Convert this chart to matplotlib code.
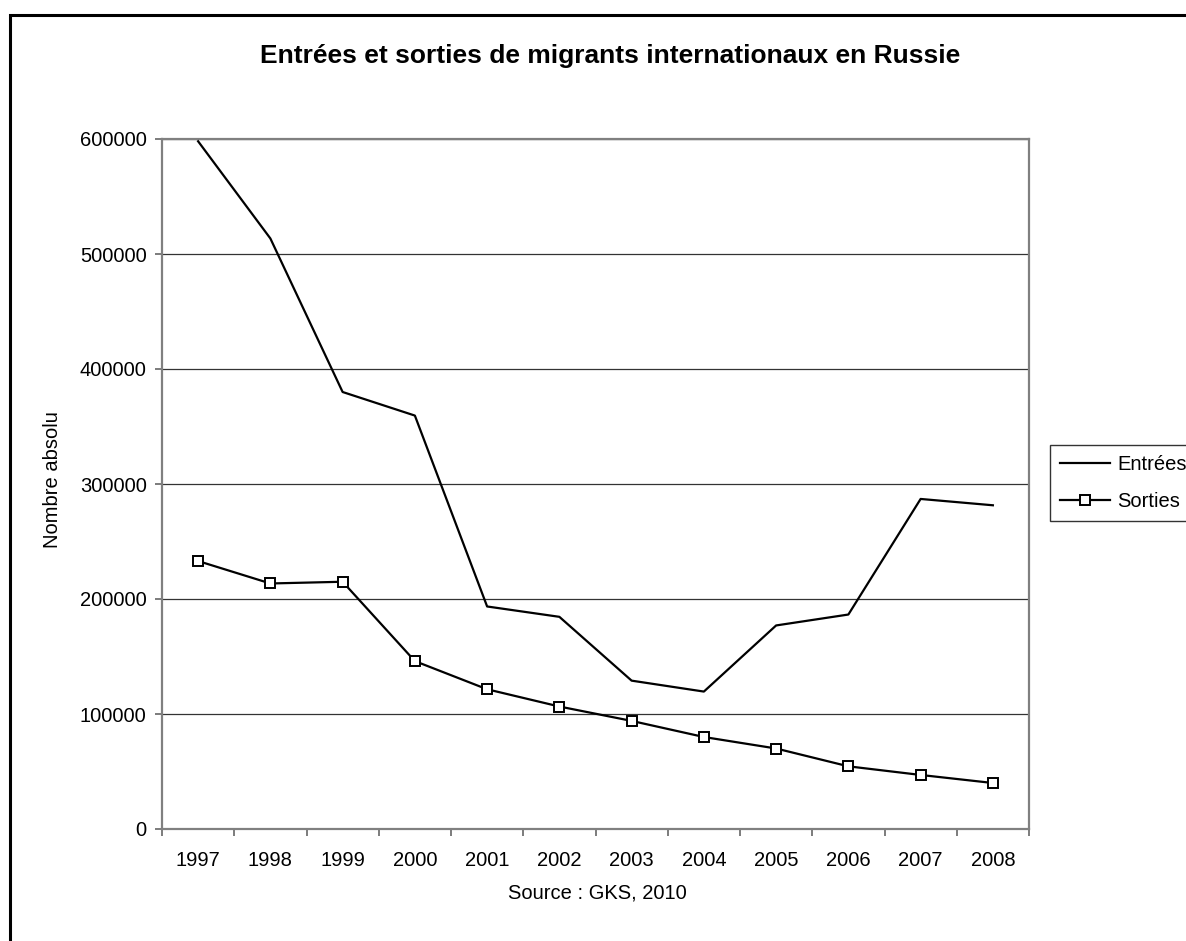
import numpy as np
import matplotlib
matplotlib.use("Agg")
import matplotlib.pyplot as plt
from matplotlib.patches import Rectangle
from matplotlib.ticker import FixedLocator

plt.rcParams['font.family'] = ['Liberation Sans', 'DejaVu Sans']

# Data
years = ['1997', '1998', '1999', '2000', '2001', '2002', '2003', '2004', '2005', '2006', '2007', '2008']
entrees = [598000, 513500, 380000, 359500, 193500, 184500, 129000, 119500, 177000, 186500, 287000, 281500]
sorties = [233000, 213500, 215000, 146000, 121500, 106500, 94000, 80000, 70000, 54500, 47000, 40000]
y_ticks = [0, 100000, 200000, 300000, 400000, 500000, 600000]

W, H = 1186, 941
fig = plt.figure(figsize=(W / 100, H / 100), dpi=100)
fig.patch.set_facecolor('white')

# plot area placed in pixel terms
left, right, top, bottom = 162, 1029, 139, 829
ax = fig.add_axes([left / W, 1 - bottom / H, (right - left) / W, (bottom - top) / H])

x = np.arange(len(years))
ax.plot(x, entrees, color='black', lw=1.6, label='Entrées', clip_on=False, zorder=3)
ax.plot(x, sorties, color='black', lw=1.6, marker='s', markersize=7.5,
        markerfacecolor='white', markeredgecolor='black', markeredgewidth=1.4,
        label='Sorties', clip_on=False, zorder=3)

ax.set_xlim(-0.5, len(years) - 0.5)
ax.set_ylim(0, 600000)

# category labels at centres, tick marks at boundaries
ax.set_xticks(x)
ax.set_xticklabels(years)
ax.xaxis.set_minor_locator(FixedLocator(np.arange(-0.5, len(years), 1.0)))
ax.tick_params(axis='x', which='major', length=0, pad=16, labelsize=14.5)
ax.tick_params(axis='x', which='minor', length=5, width=1.2, color='#666666', direction='out')

ax.set_yticks(y_ticks)
ax.set_yticklabels([str(v) for v in y_ticks])
ax.tick_params(axis='y', length=5, width=1.2, color='#666666', pad=6, labelsize=14.5)

ax.yaxis.grid(True, color='#333333', lw=0.9)
ax.set_axisbelow(True)
for s in ax.spines.values():
    s.set_color('#808080')
    s.set_linewidth(1.6)

# titles and labels
fig.text(610 / W, 1 - 56 / H, 'Entrées et sorties de migrants internationaux en Russie',
         ha='center', va='center', fontsize=19, fontweight='bold')
fig.text(53 / W, 1 - 480 / H, 'Nombre absolu', rotation=90,
         ha='center', va='center', fontsize=14.5)
fig.text(597 / W, 1 - 893 / H, 'Source : GKS, 2010',
         ha='center', va='center', fontsize=14.5)

leg = fig.legend(loc='upper left', bbox_to_anchor=(1050 / W, 1 - 445 / H),
                 frameon=True, fancybox=False, fontsize=14.5,
                 handlelength=2.5, handletextpad=0.35, labelspacing=0.9,
                 borderpad=0.5, borderaxespad=0)
leg.get_frame().set_edgecolor('black')
leg.get_frame().set_linewidth(1.0)

# outer chart border running off the right and bottom edges
fig.patches.append(Rectangle((10 / W, -0.05), 1.1, 1 - 15 / H + 0.05,
                             transform=fig.transFigure, fill=False,
                             edgecolor='black', lw=2.2, clip_on=False))

fig.savefig('out.png', dpi=100)
